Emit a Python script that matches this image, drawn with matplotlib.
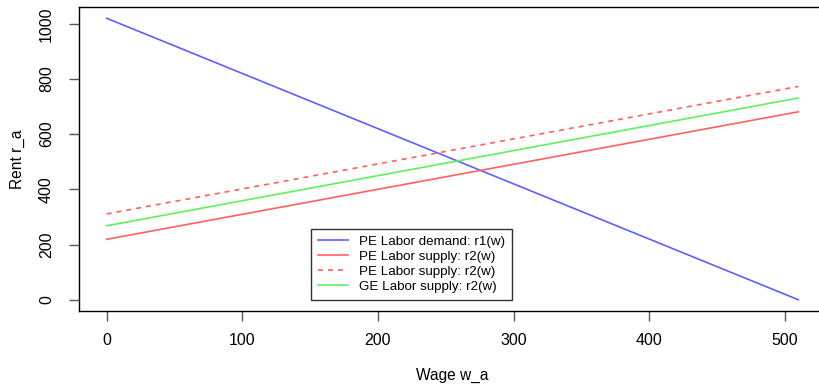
import matplotlib
matplotlib.use('Agg')
from matplotlib import pyplot as plt
import numpy as np

plt.rcParams['font.family'] = ['Liberation Sans', 'DejaVu Sans']

# wage endpoints and rent values
wage = [0, 510]
pe_demand = [1020, 0]
pe_supply = [219, 681]
pe_supply_alt = [311, 773]
ge_supply = [268, 731]

labels = ['PE Labor demand: r1(w)', 'PE Labor supply: r2(w)',
          'PE Labor supply: r2(w)', 'GE Labor supply: r2(w)']
x_ticks = [0, 100, 200, 300, 400, 500]
y_ticks = [0, 200, 400, 600, 800, 1000]

fig = plt.figure(figsize=(8.2, 3.88), dpi=100)
ax = fig.add_axes([79/820, 1 - 311/388, (826 - 79)/820, (311 - 7)/388])

lw = 1.2
ax.plot(wage, pe_demand, color='#5f5fff', lw=lw, label=labels[0])
ax.plot(wage, pe_supply, color='#ff6060', lw=lw, label=labels[1])
ax.plot(wage, pe_supply_alt, color='#ff6060', lw=lw, ls=(0, (3, 3)), label=labels[2])
ax.plot(wage, ge_supply, color='#60f060', lw=lw, label=labels[3])

ax.set_xlim(-20.4, 530.4)
ax.set_ylim(-40.8, 1060.8)
ax.set_xticks(x_ticks)
ax.set_yticks(y_ticks)
ax.set_yticklabels([str(v) for v in y_ticks], rotation=90, va='center')
ax.tick_params(axis='both', length=7, width=1, color='#555555', labelsize=11.5)
ax.tick_params(axis='x', pad=9)
ax.tick_params(axis='y', pad=11)
for s in ax.spines.values():
    s.set_linewidth(1)
    s.set_color('black')

ax.set_xlabel('Wage w_a', fontsize=11.2, labelpad=14)
ax.set_ylabel('Rent r_a', fontsize=11.2, labelpad=10)

leg = ax.legend(loc='upper left', bbox_to_anchor=(311/820, 1 - 229/388),
                bbox_transform=fig.transFigure, fontsize=9.6, frameon=True,
                fancybox=False, edgecolor='black', handlelength=2.3,
                handletextpad=0.8, borderpad=0.5, labelspacing=0.2,
                borderaxespad=0)
leg.get_frame().set_linewidth(1)

fig.savefig('out.png', dpi=100)
